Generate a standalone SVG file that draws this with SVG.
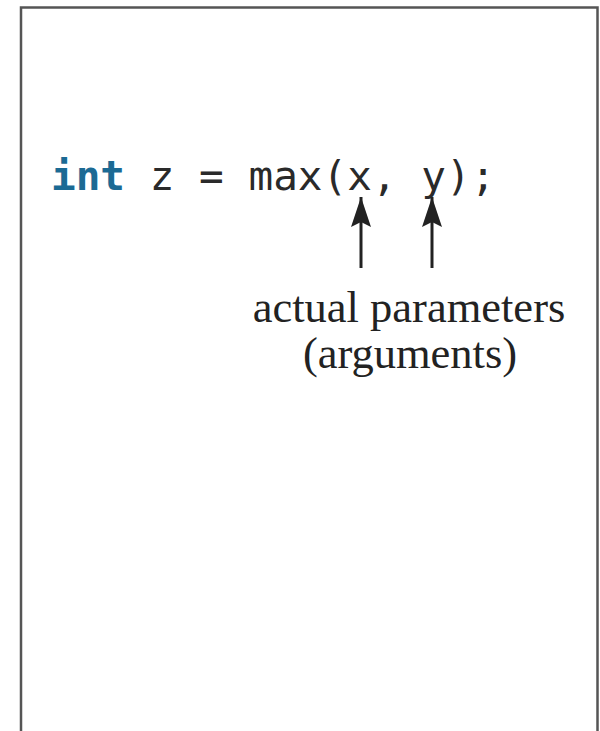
<svg xmlns="http://www.w3.org/2000/svg" width="600" height="731" viewBox="0 0 600 731">
<style>
.code{font-family:"DejaVu Sans Mono","Liberation Mono",monospace;font-size:41px;fill:#2a2a2a}
.kw{font-weight:bold;fill:#1b6a94}
.lbl{font-family:"Liberation Serif","Times New Roman",serif;font-size:44.5px;fill:#222;text-anchor:middle}
.arr{stroke:#222;stroke-width:3;fill:none}
</style>
<defs>
<marker id="ah" markerUnits="userSpaceOnUse" markerWidth="30" markerHeight="20" viewBox="0 0 30 20" refX="30" refY="10" orient="auto">
<path d="M30 10 L0 0 L5 10 L0 20 Z" fill="#222"/>
</marker>
</defs>
<rect id="frame" x="21" y="7.5" width="576.5" height="760" fill="#fff" stroke="#555" stroke-width="2.5"/>
<g id="code">
<text class="code" x="51" y="190"><tspan class="kw">int</tspan> z = max(x, y);</text>
</g>
<g id="connectors">
<line class="arr" x1="361" y1="268" x2="361" y2="197" marker-end="url(#ah)"/>
<line class="arr" x1="432" y1="268" x2="432" y2="197" marker-end="url(#ah)"/>
</g>
<g id="label">
<text class="lbl" x="409" y="322">actual parameters</text>
<text class="lbl" x="410" y="368">(arguments)</text>
</g>
</svg>
